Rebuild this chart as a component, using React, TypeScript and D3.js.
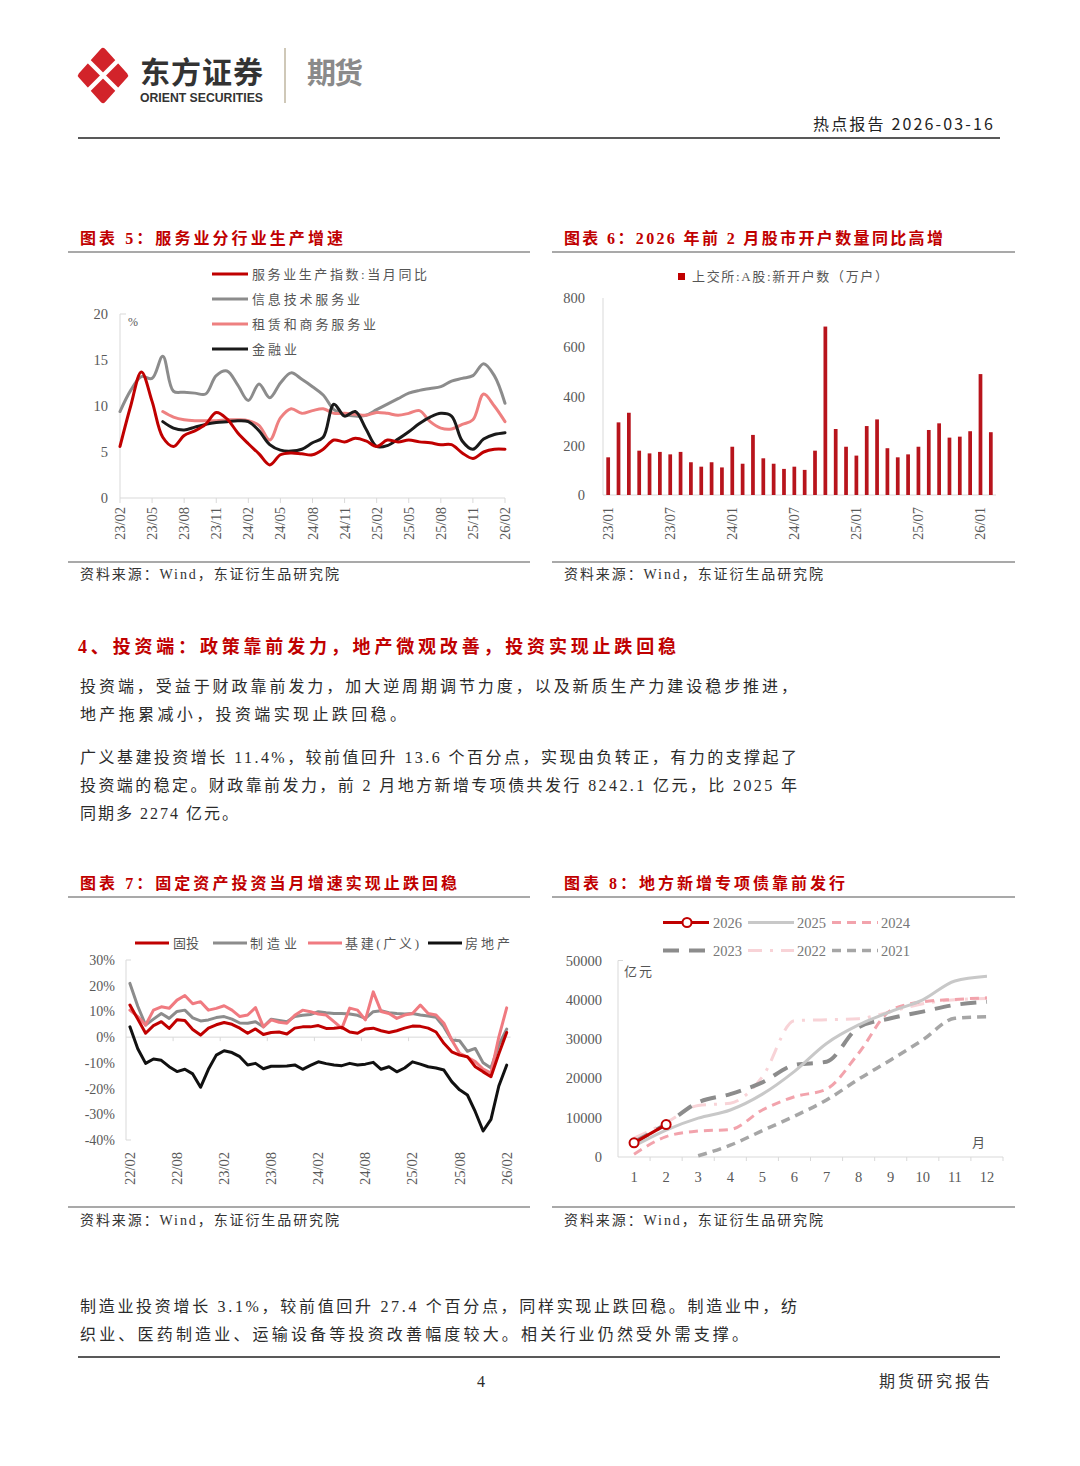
import React from 'react';
import * as d3 from 'd3';

const CJK = "'Noto Sans CJK SC', 'Noto Sans', sans-serif";
const MIX = "'Liberation Serif', 'Noto Sans CJK SC', serif";
const RED = '#C00000';
const TXT = '#2b2b2b';
const AX = '#D9D9D9';
const TICK = '#595959';

function monthLabels(y: number, m: number, n: number): string[] {
  const out: string[] = [];
  for (let i = 0; i < n; i++) {
    const mm = ((m - 1 + i) % 12) + 1;
    const yy = y + Math.floor((m - 1 + i) / 12);
    out.push(`${String(yy).padStart(2, '0')}/${String(mm).padStart(2, '0')}`);
  }
  return out;
}

// ---------- Chart 5 data ----------
const c5Months = monthLabels(23, 2, 37);
const c5TickLabels = ['23/02', '23/05', '23/08', '23/11', '24/02', '24/05', '24/08', '24/11', '25/02', '25/05', '25/08', '25/11', '26/02'];
const c5YTicks = [0, 5, 10, 15, 20];
const c5Service = [5.6, 10.0, 13.7, 10.5, 6.6, 5.6, 6.8, 7.3, 8.0, 9.3, 8.6, 7.1, 5.9, 4.8, 3.6, 4.7, 4.9, 4.8, 4.7, 5.3, 6.3, 6.1, 6.5, 6.2, 5.6, 6.3, 6.1, 6.3, 6.1, 6.0, 5.8, 5.8, 4.9, 4.3, 5.0, 5.3, 5.3];
const c5IT = [9.4, 11.7, 13.2, 13.0, 15.4, 11.6, 11.5, 11.4, 11.3, 13.3, 13.8, 12.3, 10.6, 12.4, 10.9, 12.5, 13.6, 12.9, 12.1, 11.2, 9.6, 9.1, 8.9, 9.0, 9.6, 10.2, 10.8, 11.4, 11.7, 11.9, 12.1, 12.7, 13.0, 13.3, 14.6, 13.3, 10.3];
const c5Lease: (number | null)[] = [null, null, null, null, 9.4, 8.8, 8.5, 8.4, 8.4, 8.4, 8.5, 8.5, 8.4, 7.9, 6.3, 8.7, 9.7, 9.2, 9.5, 9.7, 9.2, 9.2, 9.1, 9.0, 9.3, 9.2, 9.0, 9.2, 9.5, 8.3, 7.6, 7.5, 8.0, 8.5, 11.3, 10.0, 8.3];
const c5Fin: (number | null)[] = [null, null, null, null, 8.3, 7.6, 7.4, 7.7, 8.0, 8.2, 8.3, 8.4, 8.3, 7.3, 5.8, 5.2, 5.1, 5.3, 6.0, 6.6, 10.2, 8.9, 9.4, 7.5, 5.6, 5.7, 6.4, 7.2, 8.1, 8.8, 9.2, 8.9, 6.2, 5.3, 6.4, 6.9, 7.1];
const c5Names = ['服务业生产指数:当月同比', '信息技术服务业', '租赁和商务服务业', '金融业'];

// ---------- Chart 6 data ----------
const c6Months = monthLabels(23, 1, 38);
const c6TickLabels = ['23/01', '23/07', '24/01', '24/07', '25/01', '25/07', '26/01'];
const c6YTicks = [0, 200, 400, 600, 800];
const c6Accounts = [153, 295, 334, 180, 169, 175, 165, 175, 133, 115, 133, 112, 196, 127, 244, 149, 127, 106, 115, 102, 180, 684, 268, 196, 160, 280, 307, 190, 153, 165, 196, 264, 291, 233, 237, 259, 491, 255];
const c6Name = '上交所:A股:新开户数（万户）';

// ---------- Chart 7 data ----------
const c7Months = monthLabels(22, 2, 49);
const c7TickLabels = ['22/02', '22/08', '23/02', '23/08', '24/02', '24/08', '25/02', '25/08', '26/02'];
const c7YTicks = [30, 20, 10, 0, -10, -20, -30, -40];
const c7FAI = [12.5, 7, 1.5, 4.5, 6, 3.4, 6.8, 6.5, 3, 0.8, 3.5, 4.8, 5.7, 5, 3.5, 1.5, 3.2, 1, 1.8, 2, 1.2, 3.5, 4, 4, 4.5, 3.4, 3.5, 3.8, 2, 1.5, 3.2, 3.5, 2.5, 1.8, 2.5, 3.5, 4.3, 4.2, 3.5, 2, -2.4, -5.7, -7, -7.6, -11.5, -13.5, -15.4, -6.5, 1.8];
const c7Mfg = [20.9, 12, 4.7, 7, 9.2, 7.3, 10, 10.5, 7.5, 6.3, 6.7, 7.6, 8, 7, 5.5, 5.4, 6, 4, 7, 6.5, 6, 8, 8.5, 8.8, 9.9, 9.5, 9.2, 9.2, 9, 8.5, 7.3, 9.9, 10.3, 9.5, 9.2, 9, 9.2, 8.6, 8.2, 7.7, 4, -1.1, -1.4, -5.5, -4.4, -10, -12, -3, 3.1];
const c7Infra = [10.5, 8, 4.7, 10.5, 11.8, 11.2, 14.4, 16.2, 13, 13.8, 10.5, 11.2, 12.2, 10.5, 8, 8.6, 11.5, 4, 6.7, 5.8, 5.4, 8.5, 10.5, 9.9, 9, 8.6, 6, 3.4, 11.3, 10.5, 6.7, 17.6, 10, 9.2, 7.3, 8.6, 9.2, 12.5, 9.2, 8.6, 5.4, -1.1, -6.3, -7.8, -9.5, -12.4, -14, 0, 11.4];
const c7Realty = [4, -4.5, -10.2, -8.5, -9, -11.5, -13.4, -12.5, -14.3, -19.5, -12.5, -7, -5.3, -6, -7.6, -10.8, -10.2, -12.3, -11.3, -11.3, -11.2, -10.8, -12.5, -11, -9.6, -10.3, -10.8, -11.1, -10.2, -10.8, -10.5, -9.8, -12.5, -11.5, -13.5, -12, -9.6, -10.5, -11.5, -12, -12.8, -17.3, -20.5, -22.5, -29, -36.5, -32, -19, -10.9];
const c7Names = ['固投', '制造业', '基建(广义)', '房地产'];

// ---------- Chart 8 data ----------
const c8MonthsAxis = ['1', '2', '3', '4', '5', '6', '7', '8', '9', '10', '11', '12'];
const c8YTicks = [0, 10000, 20000, 30000, 40000, 50000];
const c8Y2026: (number | null)[] = [3600, 8242];
const c8Y2025: (number | null)[] = [2800, 6870, 9900, 11960, 16000, 21800, 28900, 33600, 37000, 40000, 44800, 46000];
const c8Y2024: (number | null)[] = [700, 5170, 6600, 7000, 11960, 15340, 17300, 26400, 37300, 39500, 40100, 40500];
const c8Y2023: (number | null)[] = [3800, 8400, 13900, 16000, 19000, 23400, 24240, 33000, 35300, 37000, 38700, 39500];
const c8Y2022: (number | null)[] = [4800, 8700, 13100, 13700, 20400, 34700, 34900, 35200, 37000, 39000, 40000, 40300];
const c8Y2021: (number | null)[] = [null, null, 300, 3000, 6700, 10400, 14500, 19800, 24700, 29800, 35300, 35700];
const c8Names = ['2026', '2025', '2024', '2023', '2022', '2021'];

// ---------- text helper ----------
type TP = {
  x: number; y: number; s: string; size: number; fill?: string; w?: number;
  weight?: number | string; anchor?: 'start' | 'middle' | 'end'; family?: string; adj?: string; transform?: string;
};
const T = ({ x, y, s, size, fill = TXT, w, weight = 400, anchor = 'start', family = MIX, adj = 'spacing', transform }: TP) => (
  <text
    x={x}
    y={y}
    fontSize={size}
    fill={fill}
    fontWeight={weight}
    textAnchor={anchor}
    fontFamily={family}
    transform={transform}
    {...(w ? { textLength: w, lengthAdjust: adj } : {})}
  >
    {s}
  </text>
);

// ---------- header ----------
const Header = () => {
  const cx = 103, cy = 75.5;
  return (
    <g>
      <path
        d={`M${cx},${cy - 24.5} L${cx + 22},${cy} L${cx},${cy + 24.5} L${cx - 22},${cy} Z`}
        fill="#D2232A"
        stroke="#D2232A"
        strokeWidth={6}
        strokeLinejoin="round"
      />
      <line x1={cx - 19} y1={cy - 19} x2={cx + 19} y2={cy + 19} stroke="#fff" strokeWidth={4.5} />
      <line x1={cx + 19} y1={cy - 19} x2={cx - 19} y2={cy + 19} stroke="#fff" strokeWidth={4.5} />
      <T x={140} y={83} s="东方证券" size={30} weight={700} fill="#333333" w={123} family={CJK} />
      <T x={140} y={102} s="ORIENT SECURITIES" size={12} weight={700} fill="#333333" w={123} family="'Liberation Sans', Arial, sans-serif" adj="spacingAndGlyphs" />
      <line x1={285} y1={48} x2={285} y2={103} stroke="#CFC8B8" strokeWidth={2} />
      <T x={307} y={84} s="期货" size={29} weight={700} fill="#8A8A8A" w={56} family={CJK} />
      <T x={993} y={130} s="热点报告  2026-03-16" size={16} anchor="end" w={180} family={CJK} fill="#222" />
      <line x1={78} y1={138} x2={1000} y2={138} stroke="#222" strokeWidth={1.5} />
    </g>
  );
};

const ChartFrame = ({ x0, x1, titleY, lineY, srcLineY, srcY, title, titleW }: any) => (
  <g>
    <T x={x0 + 12} y={titleY} s={title} size={16} weight={700} fill={RED} w={titleW} family={MIX} />
    <line x1={x0} y1={lineY} x2={x1} y2={lineY} stroke="#555" strokeWidth={1.2} />
    <line x1={x0} y1={srcLineY} x2={x1} y2={srcLineY} stroke="#555" strokeWidth={1.2} />
    <T x={x0 + 12} y={srcY} s="资料来源：Wind，东证衍生品研究院" size={14} w={259} fill="#333" />
  </g>
);

// ---------- Chart 5 ----------
const Chart5 = () => {
  const x5 = d3.scalePoint<string>().domain(c5Months).range([120, 505]);
  const y5 = d3.scaleLinear().domain([0, 20]).range([498, 314]);
  const gen = d3
    .line<number | null>()
    .defined((d) => d != null)
    .x((_, i) => x5(c5Months[i]) as number)
    .y((d) => y5(d as number))
    .curve(d3.curveCatmullRom.alpha(0.5));
  const series = [
    { name: c5Names[1], data: c5IT, color: '#8C8C8C' },
    { name: c5Names[2], data: c5Lease, color: '#EE8080' },
    { name: c5Names[3], data: c5Fin, color: '#1A1A1A' },
    { name: c5Names[0], data: c5Service, color: '#C00000' },
  ];
  const legend = [
    { name: c5Names[0], color: '#C00000', w: 175 },
    { name: c5Names[1], color: '#8C8C8C', w: 108 },
    { name: c5Names[2], color: '#EE8080', w: 124 },
    { name: c5Names[3], color: '#1A1A1A', w: 45 },
  ];
  return (
    <g>
      <ChartFrame x0={68} x1={530} titleY={244} lineY={252} srcLineY={562} srcY={579} title="图表 5：服务业分行业生产增速" titleW={263} />
      <line x1={120} y1={314} x2={120} y2={498} stroke={AX} strokeWidth={1} />
      <line x1={120} y1={314} x2={126} y2={314} stroke={AX} strokeWidth={1} />
      <line x1={120} y1={498} x2={505} y2={498} stroke={AX} strokeWidth={1} />
      {c5TickLabels.map((l) => (
        <line key={'t' + l} x1={x5(l)} x2={x5(l)} y1={498} y2={503} stroke={AX} />
      ))}
      {c5YTicks.map((v) => (
        <T key={'y' + v} x={108} y={y5(v) + 5} s={String(v)} size={14.5} anchor="end" fill={TICK} />
      ))}
      <T x={128} y={326} s="%" size={12} fill={TICK} />
      {c5TickLabels.map((l) => (
        <T key={'x' + l} x={0} y={0} s={l} size={14.5} anchor="end" fill={TICK} transform={`translate(${(x5(l) as number) + 5},507) rotate(-90)`} />
      ))}
      {series.map((s) => (
        <path key={s.name} d={gen(s.data) || ''} fill="none" stroke={s.color} strokeWidth={3} strokeLinejoin="round" strokeLinecap="round" />
      ))}
      {legend.map((l, i) => (
        <g key={l.name}>
          <line x1={212} x2={248} y1={274 + i * 25} y2={274 + i * 25} stroke={l.color} strokeWidth={3.2} />
          <T x={252} y={279 + i * 25} s={l.name} size={13} fill="#555" w={l.w} />
        </g>
      ))}
    </g>
  );
};

// ---------- Chart 6 ----------
const Chart6 = () => {
  const x6 = d3.scaleBand<string>().domain(c6Months).range([603, 996]).paddingInner(0.64).paddingOuter(0.32);
  const y6 = d3.scaleLinear().domain([0, 800]).range([495, 298]);
  return (
    <g>
      <ChartFrame x0={552} x1={1015} titleY={244} lineY={252} srcLineY={562} srcY={579} title="图表 6：2026 年前 2 月股市开户数量同比高增" titleW={379} />
      <rect x={678} y={273} width={7} height={7} fill={RED} />
      <T x={692} y={281} s={c6Name} size={13} fill="#555" w={196} />
      <line x1={603} y1={298} x2={603} y2={495} stroke={AX} />
      <line x1={603} y1={495} x2={996} y2={495} stroke={AX} />
      {c6YTicks.map((v) => (
        <T key={v} x={585} y={y6(v) + 5} s={String(v)} size={14.5} anchor="end" fill={TICK} />
      ))}
      {c6Accounts.map((v, i) => (
        <rect key={i} x={x6(c6Months[i])} y={y6(v)} width={x6.bandwidth()} height={495 - y6(v)} fill="#B8141C" />
      ))}
      {c6TickLabels.map((l) => (
        <T key={l} x={0} y={0} s={l} size={14.5} anchor="end" fill={TICK}
          transform={`translate(${(x6(l) as number) + x6.bandwidth() / 2 + 5},507) rotate(-90)`} />
      ))}
    </g>
  );
};

// ---------- Body text ----------
const Body = () => (
  <g>
    <T x={78} y={653} s="4、投资端：政策靠前发力，地产微观改善，投资实现止跌回稳" size={18} weight={700} fill={RED} w={598} />
    <T x={80} y={692} s="投资端，受益于财政靠前发力，加大逆周期调节力度，以及新质生产力建设稳步推进，" size={16} w={717} />
    <T x={80} y={720} s="地产拖累减小，投资端实现止跌回稳。" size={16} w={326} />
    <T x={80} y={763} s="广义基建投资增长 11.4%，较前值回升 13.6 个百分点，实现由负转正，有力的支撑起了" size={16} w={717} />
    <T x={80} y={791} s="投资端的稳定。财政靠前发力，前 2 月地方新增专项债共发行 8242.1 亿元，比 2025 年" size={16} w={717} />
    <T x={80} y={819} s="同期多 2274 亿元。" size={16} w={158} />
    <T x={80} y={1312} s="制造业投资增长 3.1%，较前值回升 27.4 个百分点，同样实现止跌回稳。制造业中，纺" size={16} w={717} />
    <T x={80} y={1340} s="织业、医药制造业、运输设备等投资改善幅度较大。相关行业仍然受外需支撑。" size={16} w={668} />
  </g>
);

// ---------- Chart 7 ----------
const Chart7 = () => {
  const x7 = d3.scalePoint<string>().domain(c7Months).range([126, 510.6]).padding(0.5);
  const step = x7.step();
  const y7 = d3.scaleLinear().domain([-40, 30]).range([1140, 960]);
  const gen = d3
    .line<number>()
    .x((_, i) => x7(c7Months[i]) as number)
    .y((d) => y7(d))
    .curve(d3.curveLinear);
  const series = [
    { name: c7Names[1], data: c7Mfg, color: '#8C8C8C' },
    { name: c7Names[2], data: c7Infra, color: '#F07A80' },
    { name: c7Names[0], data: c7FAI, color: '#C00000' },
    { name: c7Names[3], data: c7Realty, color: '#111111' },
  ];
  const legend = [
    { name: c7Names[0], color: '#C00000', lx: 135, tx: 173, w: 26 },
    { name: c7Names[1], color: '#8C8C8C', lx: 213, tx: 250, w: 47 },
    { name: c7Names[2], color: '#F07A80', lx: 308, tx: 345, w: 74 },
    { name: c7Names[3], color: '#111111', lx: 428, tx: 465, w: 45 },
  ];
  const tickIdx = [6, 12, 18, 24, 30, 36, 42, 48];
  return (
    <g>
      <ChartFrame x0={68} x1={530} titleY={889} lineY={897} srcLineY={1207} srcY={1225} title="图表 7：固定资产投资当月增速实现止跌回稳" titleW={377} />
      {legend.map((l) => (
        <g key={l.name}>
          <line x1={l.lx} x2={l.lx + 34} y1={943} y2={943} stroke={l.color} strokeWidth={3.2} />
          <T x={l.tx} y={948} s={l.name} size={13} fill="#555" w={l.w} />
        </g>
      ))}
      <line x1={126} y1={960} x2={126} y2={1140} stroke={AX} />
      <line x1={126} y1={960} x2={131} y2={960} stroke={AX} />
      <line x1={126} y1={1140} x2={131} y2={1140} stroke={AX} />
      <line x1={126} y1={y7(0)} x2={510.6} y2={y7(0)} stroke={AX} />
      {tickIdx.map((k) => (
        <line key={k} x1={126 + k * step} x2={126 + k * step} y1={y7(0)} y2={y7(0) + 4} stroke={AX} />
      ))}
      {c7YTicks.map((v) => (
        <T key={v} x={115} y={y7(v) + 5} s={`${v}%`} size={14} anchor="end" fill={TICK} />
      ))}
      {c7TickLabels.map((l) => (
        <T key={l} x={0} y={0} s={l} size={14.5} anchor="end" fill={TICK}
          transform={`translate(${(x7(l) as number) + 5},1152) rotate(-90)`} />
      ))}
      {series.map((s) => (
        <path key={s.name} d={gen(s.data) || ''} fill="none" stroke={s.color} strokeWidth={3} strokeLinejoin="round" strokeLinecap="round" />
      ))}
    </g>
  );
};

// ---------- Chart 8 ----------
const Chart8 = () => {
  const x8 = d3.scaleBand<string>().domain(c8MonthsAxis).range([618, 1003]);
  const cx = (i: number) => (x8(c8MonthsAxis[i]) as number) + x8.bandwidth() / 2;
  const y8 = d3.scaleLinear().domain([0, 50000]).range([1157, 960.5]);
  const gen = d3
    .line<number | null>()
    .defined((d) => d != null)
    .x((_, i) => cx(i))
    .y((d) => y8(d as number))
    .curve(d3.curveMonotoneX);
  const styles: Record<string, { color: string; w: number; dash?: string }> = {
    '2026': { color: '#C00000', w: 3 },
    '2025': { color: '#C8C8C8', w: 3 },
    '2024': { color: '#F2A3AC', w: 3, dash: '9,6' },
    '2023': { color: '#8C8C8C', w: 4, dash: '16,10' },
    '2022': { color: '#F8D3D7', w: 3, dash: '14,8,3,8' },
    '2021': { color: '#A6A6A6', w: 3.5, dash: '9,6' },
  };
  const data: Record<string, (number | null)[]> = {
    '2026': c8Y2026, '2025': c8Y2025, '2024': c8Y2024, '2023': c8Y2023, '2022': c8Y2022, '2021': c8Y2021,
  };
  const drawOrder = ['2022', '2021', '2023', '2024', '2025', '2026'];
  const legendPos = [
    { lx: 663, tx: 713, y: 922.5 },
    { lx: 748, tx: 797, y: 922.5 },
    { lx: 832, tx: 881, y: 922.5 },
    { lx: 663, tx: 713, y: 950.5 },
    { lx: 748, tx: 797, y: 950.5 },
    { lx: 832, tx: 881, y: 950.5 },
  ];
  return (
    <g>
      <ChartFrame x0={552} x1={1015} titleY={889} lineY={897} srcLineY={1207} srcY={1225} title="图表 8：地方新增专项债靠前发行" titleW={281} />
      {c8Names.map((n, i) => {
        const p = legendPos[i];
        const st = styles[n];
        return (
          <g key={n}>
            <line x1={p.lx} x2={p.lx + 46} y1={p.y} y2={p.y} stroke={st.color} strokeWidth={st.w} strokeDasharray={st.dash} />
            {n === '2026' && <circle cx={p.lx + 24} cy={p.y} r={4.5} fill="#fff" stroke={RED} strokeWidth={2} />}
            <T x={p.tx} y={p.y + 5} s={n} size={14.5} fill="#777" />
          </g>
        );
      })}
      <line x1={618} y1={960.5} x2={618} y2={1157} stroke={AX} />
      <line x1={618} y1={960.5} x2={623} y2={960.5} stroke={AX} />
      <line x1={618} y1={1157} x2={1003} y2={1157} stroke={AX} />
      {c8MonthsAxis.map((m) => (
        <line key={'t' + m} x1={(x8(m) as number) + x8.bandwidth()} x2={(x8(m) as number) + x8.bandwidth()} y1={1157} y2={1161} stroke={AX} />
      ))}
      {c8YTicks.map((v) => (
        <T key={v} x={602} y={y8(v) + 5} s={String(v)} size={14.5} anchor="end" fill={TICK} />
      ))}
      {c8MonthsAxis.map((m, i) => (
        <T key={m} x={cx(i)} y={1182} s={m} size={14.5} anchor="middle" fill={TICK} />
      ))}
      <T x={624} y={976} s="亿元" size={13} fill="#555" w={28} />
      <T x={972} y={1147} s="月" size={13} fill="#555" />
      {drawOrder.map((n) => (
        <path key={n} d={gen(data[n]) || ''} fill="none" stroke={styles[n].color} strokeWidth={styles[n].w}
          strokeDasharray={styles[n].dash} strokeLinejoin="round" />
      ))}
      {c8Y2026.map((v, i) => v != null && (
        <circle key={i} cx={cx(i)} cy={y8(v)} r={4.5} fill="#fff" stroke={RED} strokeWidth={2} />
      ))}
    </g>
  );
};

const Footer = () => (
  <g>
    <line x1={78} y1={1357} x2={1000} y2={1357} stroke="#222" strokeWidth={1.5} />
    <T x={481} y={1387} s="4" size={16} anchor="middle" />
    <T x={879} y={1387} s="期货研究报告" size={16} w={111} family={CJK} fill="#333" />
  </g>
);

export default function App() {
  return (
    <svg
      width={1080}
      height={1466}
      viewBox="0 0 1080 1466"
      xmlns="http://www.w3.org/2000/svg"
      style={{ position: 'absolute', left: 0, top: 0, background: '#fff' }}
    >
      <rect width={1080} height={1466} fill="#fff" />
      <Header />
      <Chart5 />
      <Chart6 />
      <Body />
      <Chart7 />
      <Chart8 />
      <Footer />
    </svg>
  );
}
